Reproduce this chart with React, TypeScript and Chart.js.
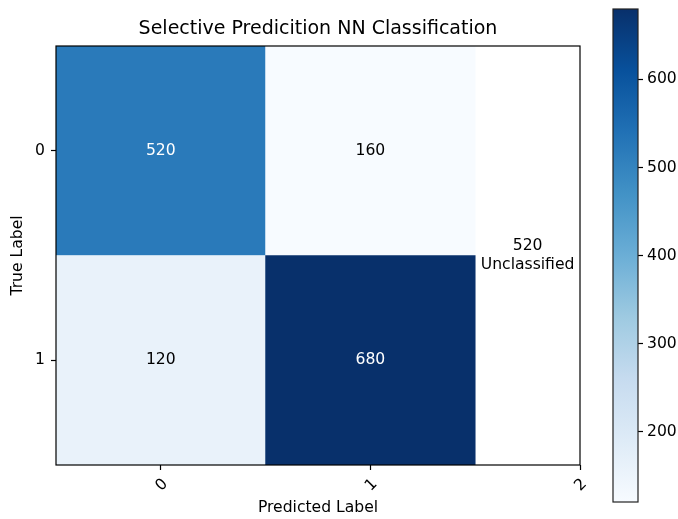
import { useEffect, useRef } from 'react';
import { Chart, registerables } from 'chart.js';

Chart.register(...registerables);

// Confusion matrix: rows = true label, columns = predicted label
const trueLabels = ['0', '1'];
const predictedLabels = ['0', '1', '2'];
const counts = [
  [520, 160],
  [120, 680],
];
const unclassifiedCount = 520;
const colorbarTicks = [200, 300, 400, 500, 600];
const titleText = 'Selective Predicition NN Classification';

const FONT = '"DejaVu Sans", "Liberation Sans", sans-serif';
const TEXT_SIZE = 15.6;

// matplotlib "Blues" control colours
const BLUES = ['#f7fbff', '#deebf7', '#c6dbef', '#9ecae1', '#6baed6', '#4292c6', '#2171b5', '#08519c', '#08306b'];

function hexToRgb(h: string): number[] {
  const n = parseInt(h.slice(1), 16);
  return [(n >> 16) & 255, (n >> 8) & 255, n & 255];
}

function blues(t: number): string {
  const tt = Math.min(1, Math.max(0, t)) * (BLUES.length - 1);
  const i = Math.min(BLUES.length - 2, Math.floor(tt));
  const f = tt - i;
  const a = hexToRgb(BLUES[i]);
  const b = hexToRgb(BLUES[i + 1]);
  const c = a.map((v, k) => Math.round(v + (b[k] - v) * f));
  return `rgb(${c[0]}, ${c[1]}, ${c[2]})`;
}

const flat = counts.flat();
const vmin = Math.min(...flat);
const vmax = Math.max(...flat);

// One floating bar per cell. The shading is looked up from the transposed
// matrix (the image was drawn from cm.T while the numbers come from cm).
const cells: { x: number; y: [number, number] }[] = [];
const cellColors: string[] = [];
trueLabels.forEach((_, r) => {
  trueLabels.forEach((__, c) => {
    cells.push({ x: c, y: [r - 0.5, r + 0.5] });
    cellColors.push(blues((counts[c][r] - vmin) / (vmax - vmin)));
  });
});

const font = { family: FONT, size: TEXT_SIZE };

const matrixOverlay = {
  id: 'matrixOverlay',
  afterDatasetsDraw(chart: any) {
    const { ctx, chartArea, scales } = chart;
    const x = scales.x;
    const y = scales.y;
    ctx.save();
    ctx.font = `${TEXT_SIZE}px ${FONT}`;
    ctx.textAlign = 'center';
    ctx.textBaseline = 'middle';
    counts.forEach((row, r) => {
      row.forEach((v, c) => {
        ctx.fillStyle = v > vmax / 2 ? '#ffffff' : '#000000';
        ctx.fillText(String(v), x.getPixelForValue(c), y.getPixelForValue(r));
      });
    });
    const ux = x.getPixelForValue(1.75);
    const uy = y.getPixelForValue(0.5);
    const lh = TEXT_SIZE * 1.25;
    ctx.fillStyle = '#000000';
    ctx.fillText(String(unclassifiedCount), ux, uy - lh / 2);
    ctx.fillText('Unclassified', ux, uy + lh / 2);

    // x tick labels, rotated 45° about their own centre
    predictedLabels.forEach((label, i) => {
      ctx.save();
      ctx.translate(x.getPixelForValue(i) + 1, chartArea.bottom + 20);
      ctx.rotate(-Math.PI / 4);
      ctx.fillText(label, 0, 0);
      ctx.restore();
    });

    // axes frame
    ctx.strokeStyle = '#000000';
    ctx.lineWidth = 1.2;
    ctx.strokeRect(chartArea.left, chartArea.top, chartArea.right - chartArea.left, chartArea.bottom - chartArea.top);
    ctx.restore();
  },
};

const colorbarOutline = {
  id: 'colorbarOutline',
  afterDatasetsDraw(chart: any) {
    const { ctx, chartArea } = chart;
    ctx.save();
    ctx.strokeStyle = '#222222';
    ctx.lineWidth = 1.2;
    ctx.strokeRect(chartArea.left, chartArea.top, chartArea.right - chartArea.left, chartArea.bottom - chartArea.top);
    ctx.restore();
  },
};

function colorbarFill(c: any) {
  const chart = c.chart;
  const ys = chart.scales && chart.scales.y;
  const area = chart.chartArea;
  if (!ys || !area) return BLUES[4];
  const y0 = ys.getPixelForValue(vmin);
  const y1 = ys.getPixelForValue(vmax);
  if (!Number.isFinite(y0) || !Number.isFinite(y1) || y0 === y1) return BLUES[4];
  const g = chart.ctx.createLinearGradient(0, y0, 0, y1);
  BLUES.forEach((col, i) => g.addColorStop(i / (BLUES.length - 1), col));
  return g;
}

export default function App() {
  const mainRef = useRef<HTMLCanvasElement>(null);
  const barRef = useRef<HTMLCanvasElement>(null);

  useEffect(() => {
    if (!mainRef.current || !barRef.current) return;

    const main = new Chart(mainRef.current, {
      type: 'bar',
      data: {
        datasets: [
          {
            data: cells as any,
            backgroundColor: cellColors,
            borderWidth: 0,
            barPercentage: 1,
            categoryPercentage: 1,
          },
        ],
      },
      options: {
        responsive: false,
        animation: false,
        events: [],
        layout: { padding: { left: 0, top: 0, right: 20, bottom: 0 } },
        plugins: {
          legend: { display: false },
          tooltip: { enabled: false },
          title: {
            display: true,
            text: titleText,
            fullSize: false,
            color: '#000000',
            font: { family: FONT, size: 19, weight: 'normal' },
            padding: { top: 18, bottom: 5.2 },
          },
        },
        scales: {
          x: {
            type: 'linear',
            min: -0.5,
            max: 2,
            offset: false,
            afterBuildTicks: (s: any) => {
              s.ticks = predictedLabels.map((_, i) => ({ value: i }));
            },
            afterFit: (s: any) => {
              s.height = 54;
              s.paddingLeft = 0;
              s.paddingRight = 0;
            },
            ticks: { display: false, autoSkip: false },
            grid: { drawOnChartArea: false, drawTicks: true, tickLength: 5, tickColor: '#000000', tickWidth: 1.2, offset: false },
            border: { display: false },
            title: { display: true, text: 'Predicted Label', color: '#000000', font, padding: { top: 0, bottom: 2 } },
          },
          y: {
            type: 'linear',
            min: -0.5,
            max: 1.5,
            reverse: true,
            afterBuildTicks: (s: any) => {
              s.ticks = trueLabels.map((_, i) => ({ value: i }));
            },
            afterFit: (s: any) => {
              s.width = 56;
              s.paddingTop = 0;
              s.paddingBottom = 0;
            },
            ticks: {
              padding: 6,
              color: '#000000',
              font,
              callback: (v: any) => trueLabels[Number(v)] ?? '',
            },
            grid: { drawOnChartArea: false, drawTicks: true, tickLength: 5, tickColor: '#000000', tickWidth: 1.2 },
            border: { display: false },
            title: { display: true, text: 'True Label', color: '#000000', font, padding: { top: 9, bottom: 0 } },
          },
        },
      },
      plugins: [matrixOverlay],
    });

    const bar = new Chart(barRef.current, {
      type: 'bar',
      data: {
        labels: ['scale'],
        datasets: [
          {
            data: [[vmin, vmax]] as any,
            backgroundColor: colorbarFill,
            borderWidth: 0,
            barPercentage: 1,
            categoryPercentage: 1,
          },
        ],
      },
      options: {
        responsive: false,
        animation: false,
        events: [],
        layout: { padding: { left: 13, top: 9, right: 0, bottom: 17 } },
        plugins: { legend: { display: false }, tooltip: { enabled: false } },
        scales: {
          x: { display: false },
          y: {
            position: 'right',
            min: vmin,
            max: vmax,
            afterBuildTicks: (s: any) => {
              s.ticks = colorbarTicks.map((v) => ({ value: v }));
            },
            afterFit: (s: any) => {
              s.width = 40;
              s.paddingTop = 0;
              s.paddingBottom = 0;
            },
            ticks: { padding: 4, color: '#000000', font },
            grid: { drawOnChartArea: false, drawTicks: true, tickLength: 5, tickColor: '#000000', tickWidth: 1.2 },
            border: { display: false },
          },
        },
      },
      plugins: [colorbarOutline],
    });
    // the gradient needs the laid-out scale, so resolve the fill once more
    bar.update();

    return () => {
      main.destroy();
      bar.destroy();
    };
  }, []);

  return (
    <div style={{ position: 'absolute', left: 0, top: 0, width: 678, height: 519, background: '#ffffff' }}>
      <canvas ref={mainRef} width={600} height={519} style={{ position: 'absolute', left: 0, top: 0 }} />
      <canvas ref={barRef} width={78} height={519} style={{ position: 'absolute', left: 600, top: 0 }} />
    </div>
  );
}
